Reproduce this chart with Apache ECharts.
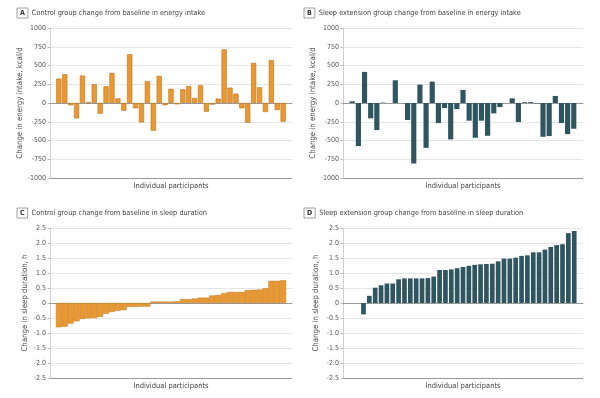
<!DOCTYPE html>
<html>
<head>
<meta charset="utf-8">
<script src="https://cdn.jsdelivr.net/npm/echarts@6/dist/echarts.min.js"></script>
<style>
  html, body { margin: 0; padding: 0; background: #fff; }
  #chart { width: 600px; height: 398px; }
</style>
</head>
<body>
<div id="chart"></div>
<script>
// change from baseline, one value per participant (left to right as drawn)
const controlEnergy = [326, 384, -31, -205, 366, 13, 250, -143, 223, 401, 62, -103, 651, -71, -259, 290, -370, 361, -31, 190,
  -18, 183, 227, 67, 236, -116, -22, 58, 714, 205, 125, -71, -263, 535, 210, -120, 571, -94, -250]
const extensionEnergy = [22, -575, 415, -205, -361, 5, 0, 303, 0, -227, -807, 245, -598, 285, -268, -67, -486, -80, 174,
  -236, -464, -236, -437, -138, -54, 0, 62, -254, 10, 12, -5, -450, -441, 94, -268, -415, -343]
const controlSleep = [-0.81, -0.79, -0.69, -0.61, -0.53, -0.51, -0.50, -0.46, -0.36, -0.30, -0.26, -0.24, -0.13, -0.13,
  -0.12, -0.12, 0.05, 0.05, 0.05, 0.05, 0.06, 0.13, 0.13, 0.15, 0.18, 0.18, 0.25, 0.27, 0.33, 0.37, 0.37, 0.37, 0.43,
  0.44, 0.45, 0.49, 0.74, 0.74, 0.76]
const extensionSleep = [-0.38, 0.24, 0.51, 0.59, 0.65, 0.65, 0.79, 0.82, 0.82, 0.82, 0.82, 0.83, 0.88, 1.10, 1.10, 1.12,
  1.16, 1.20, 1.24, 1.27, 1.29, 1.30, 1.31, 1.39, 1.48, 1.48, 1.51, 1.57, 1.59, 1.69, 1.69, 1.78, 1.87, 1.93, 1.96,
  2.33, 2.40]

const panelLetters = ['A', 'B', 'C', 'D']
const panelTitles = [
  'Control group change from baseline in energy intake',
  'Sleep extension group change from baseline in energy intake',
  'Control group change from baseline in sleep duration',
  'Sleep extension group change from baseline in sleep duration'
]
const energyName = 'Change in energy intake, kcal/d'
const sleepName = 'Change in sleep duration, h'
const xName = 'Individual participants'

const FONT = "'Liberation Sans Narrow', 'DejaVu Sans Condensed', 'Liberation Sans', sans-serif"
const ORANGE = '#EA9831'
const TEAL = '#2F5561'

// empty slots before / after the bars, as drawn in the figure
const pad = (vals, before, after) => [...Array(before).fill(null), ...vals, ...Array(after).fill(null)]

const panels = [
  { data: pad(controlEnergy, 1, 1), grid: { left: 50, top: 28, width: 242, height: 150 }, energy: true,
    item: { color: ORANGE, borderColor: '#B9731E', borderWidth: 0.6 }, gap: '12%', nameGap: 26 },
  { data: pad(extensionEnergy, 1, 1), grid: { left: 343, top: 28, width: 240, height: 150 }, energy: true,
    item: { color: TEAL }, gap: '16%', nameGap: 26 },
  { data: pad(controlSleep, 1, 1), grid: { left: 50, top: 228, width: 242, height: 150 }, energy: false,
    item: { color: ORANGE, borderColor: '#C07A22', borderWidth: 0.5 }, gap: '0%', nameGap: 21 },
  { data: pad(extensionSleep, 3, 1), grid: { left: 343, top: 228, width: 240, height: 150 }, energy: false,
    item: { color: TEAL }, gap: '20%', nameGap: 23 }
]

const chart = echarts.init(document.getElementById('chart'))

const gridLineColors = n => ['#9a9a9a', ...Array(n - 1).fill('#e6e6e6')]

chart.setOption({
  animation: false,
  textStyle: { fontFamily: FONT },
  title: panels.map((p, i) => ({
    left: p.grid.left - (i % 2 ? 39 : 33),
    top: p.grid.top - 20,
    padding: 0,
    text: '{box|' + panelLetters[i] + '}{t|' + panelTitles[i] + '}',
    textStyle: {
      fontWeight: 'normal',
      rich: {
        box: { fontFamily: FONT, fontSize: 7, fontWeight: 'bold', color: '#333', borderColor: '#888', borderWidth: 0.8,
          padding: [2, 3, 1, 3] },
        t: { fontFamily: FONT, fontSize: 7.3, fontWeight: 'normal', color: '#444', padding: [0, 0, 0, 4] }
      }
    }
  })),
  grid: panels.map(p => p.grid),
  xAxis: panels.map((p, i) => ({
    type: 'category',
    gridIndex: i,
    data: p.data.map((_, k) => k + 1),
    name: xName,
    nameLocation: 'middle',
    nameGap: 4,
    nameTextStyle: { fontFamily: FONT, fontSize: 7.5, color: '#444' },
    axisLine: { onZero: true, lineStyle: { color: '#9a9a9a', width: 1 } },
    axisTick: { show: false },
    axisLabel: { show: false },
    splitLine: { show: false }
  })),
  yAxis: panels.map((p, i) => ({
    type: 'value',
    gridIndex: i,
    min: p.energy ? -1000 : -2.5,
    max: p.energy ? 1000 : 2.5,
    interval: p.energy ? 250 : 0.5,
    name: p.energy ? energyName : sleepName,
    nameLocation: 'middle',
    nameGap: p.nameGap,
    nameTextStyle: { fontFamily: FONT, fontSize: 7.8, color: '#444' },
    axisLine: { show: true, lineStyle: { color: '#cfcfcf' } },
    axisTick: { show: true, length: 2.5, lineStyle: { color: '#bbb' } },
    axisLabel: {
      fontFamily: FONT, fontSize: 7, color: '#555', margin: 4,
      formatter: v => p.energy ? String(v) : (v === 0 ? '0' : v.toFixed(1))
    },
    splitLine: { show: true, lineStyle: { color: gridLineColors(p.energy ? 9 : 11), width: 1 } }
  })),
  series: panels.map((p, i) => ({
    type: 'bar',
    xAxisIndex: i,
    yAxisIndex: i,
    data: p.data,
    barCategoryGap: p.gap,
    itemStyle: p.item
  }))
})
</script>
</body>
</html>
